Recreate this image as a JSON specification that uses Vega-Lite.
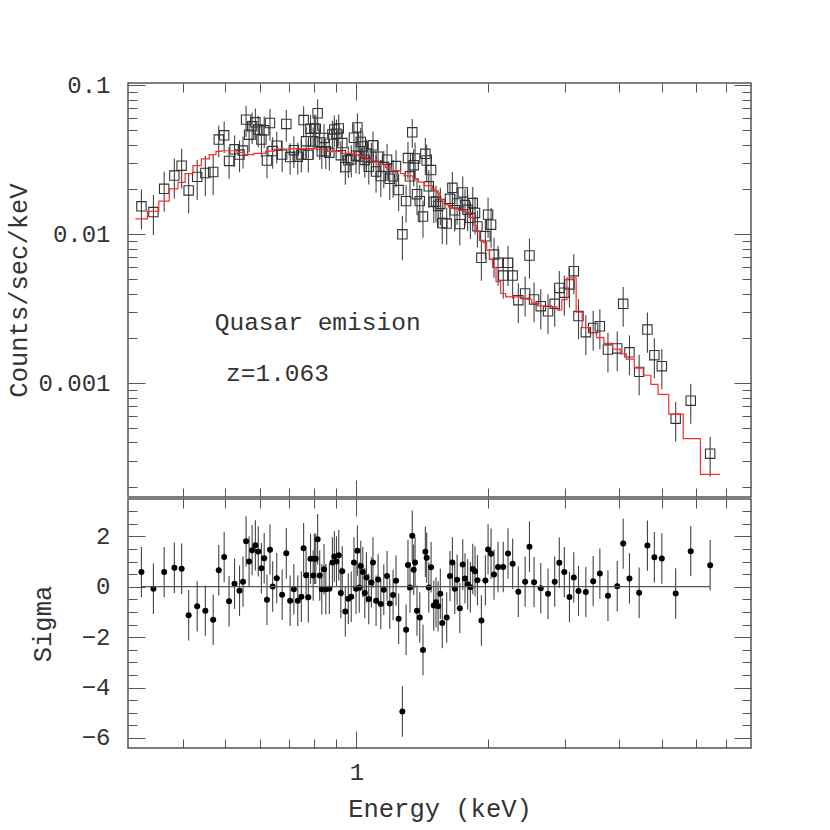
{
"$schema": "https://vega.github.io/schema/vega-lite/v6.json",
"background": "white",
"padding": {"left": 5, "top": 72, "right": 5, "bottom": 5},
"spacing": -9,
"datasets": {
"pts": [
{"E":0.322,"c":0.0154,"lo":0.01078,"hi":0.02002,"s":0.58,"sl":-0.42,"sh":1.58},
{"E":0.343,"c":0.0141,"lo":0.00987,"hi":0.01833,"s":-0.08,"sl":-1.08,"sh":0.92},
{"E":0.363,"c":0.0202,"lo":0.01414,"hi":0.02626,"s":0.58,"sl":-0.42,"sh":1.58},
{"E":0.383,"c":0.0248,"lo":0.01736,"hi":0.03224,"s":0.75,"sl":-0.25,"sh":1.75},
{"E":0.398,"c":0.0289,"lo":0.02023,"hi":0.03757,"s":0.71,"sl":-0.29,"sh":1.71},
{"E":0.413,"c":0.0197,"lo":0.01379,"hi":0.02561,"s":-1.13,"sl":-2.13,"sh":-0.13},
{"E":0.432,"c":0.0243,"lo":0.01701,"hi":0.03159,"s":-0.78,"sl":-1.78,"sh":0.22},
{"E":0.451,"c":0.0258,"lo":0.01806,"hi":0.03354,"s":-0.95,"sl":-1.95,"sh":0.05},
{"E":0.470,"c":0.0262,"lo":0.01834,"hi":0.03406,"s":-1.31,"sl":-2.31,"sh":-0.31},
{"E":0.484,"c":0.0433,"lo":0.0329,"hi":0.0537,"s":0.65,"sl":-0.35,"sh":1.65},
{"E":0.498,"c":0.0462,"lo":0.0351,"hi":0.0573,"s":1.18,"sl":0.18,"sh":2.18},
{"E":0.511,"c":0.0311,"lo":0.0236,"hi":0.0386,"s":-0.58,"sl":-1.58,"sh":0.42},
{"E":0.526,"c":0.0372,"lo":0.0283,"hi":0.0461,"s":0.12,"sl":-0.88,"sh":1.12},
{"E":0.540,"c":0.0343,"lo":0.0261,"hi":0.0425,"s":-0.16,"sl":-1.16,"sh":0.84},
{"E":0.550,"c":0.0365,"lo":0.0277,"hi":0.0453,"s":0.2,"sl":-0.8,"sh":1.2},
{"E":0.559,"c":0.0589,"lo":0.0448,"hi":0.0730,"s":1.8,"sl":0.8,"sh":2.8},
{"E":0.568,"c":0.0467,"lo":0.0355,"hi":0.0579,"s":1.0,"sl":0,"sh":2},
{"E":0.577,"c":0.0531,"lo":0.0404,"hi":0.0658,"s":1.45,"sl":0.45,"sh":2.45},
{"E":0.587,"c":0.0565,"lo":0.0429,"hi":0.0701,"s":1.64,"sl":0.64,"sh":2.64},
{"E":0.596,"c":0.0505,"lo":0.0384,"hi":0.0626,"s":1.4,"sl":0.4,"sh":2.4},
{"E":0.606,"c":0.0433,"lo":0.0329,"hi":0.0537,"s":0.73,"sl":-0.27,"sh":1.73},
{"E":0.615,"c":0.0499,"lo":0.0379,"hi":0.0619,"s":1.13,"sl":0.13,"sh":2.13},
{"E":0.624,"c":0.0313,"lo":0.0238,"hi":0.0388,"s":-0.52,"sl":-1.52,"sh":0.48},
{"E":0.634,"c":0.0559,"lo":0.0425,"hi":0.0693,"s":1.47,"sl":0.47,"sh":2.47},
{"E":0.643,"c":0.0362,"lo":0.0275,"hi":0.0449,"s":0.01,"sl":-0.99,"sh":1.01},
{"E":0.657,"c":0.0394,"lo":0.0299,"hi":0.0489,"s":0.34,"sl":-0.66,"sh":1.34},
{"E":0.676,"c":0.0343,"lo":0.0261,"hi":0.0425,"s":-0.32,"sl":-1.32,"sh":0.68},
{"E":0.691,"c":0.0551,"lo":0.0419,"hi":0.0683,"s":1.33,"sl":0.33,"sh":2.33},
{"E":0.705,"c":0.0330,"lo":0.0251,"hi":0.0409,"s":-0.56,"sl":-1.56,"sh":0.44},
{"E":0.719,"c":0.0367,"lo":0.0279,"hi":0.0455,"s":-0.1,"sl":-1.1,"sh":0.9},
{"E":0.734,"c":0.0332,"lo":0.0252,"hi":0.0412,"s":-0.56,"sl":-1.56,"sh":0.44},
{"E":0.748,"c":0.0343,"lo":0.0261,"hi":0.0425,"s":-0.4,"sl":-1.4,"sh":0.6},
{"E":0.757,"c":0.0585,"lo":0.0445,"hi":0.0725,"s":1.53,"sl":0.53,"sh":2.53},
{"E":0.767,"c":0.0422,"lo":0.0321,"hi":0.0523,"s":0.45,"sl":-0.55,"sh":1.45},
{"E":0.776,"c":0.0342,"lo":0.0260,"hi":0.0424,"s":-0.42,"sl":-1.42,"sh":0.58},
{"E":0.785,"c":0.0512,"lo":0.0389,"hi":0.0635,"s":1.11,"sl":0.11,"sh":2.11},
{"E":0.796,"c":0.0421,"lo":0.0320,"hi":0.0522,"s":0.44,"sl":-0.56,"sh":1.44},
{"E":0.801,"c":0.0512,"lo":0.0389,"hi":0.0635,"s":1.11,"sl":0.11,"sh":2.11},
{"E":0.807,"c":0.0512,"lo":0.0389,"hi":0.0635,"s":1.11,"sl":0.11,"sh":2.11},
{"E":0.815,"c":0.0650,"lo":0.0494,"hi":0.0806,"s":1.88,"sl":0.88,"sh":2.88},
{"E":0.824,"c":0.0414,"lo":0.0315,"hi":0.0513,"s":0.44,"sl":-0.56,"sh":1.44},
{"E":0.833,"c":0.0361,"lo":0.0274,"hi":0.0448,"s":-0.1,"sl":-1.1,"sh":0.9},
{"E":0.843,"c":0.0444,"lo":0.0337,"hi":0.0551,"s":0.69,"sl":-0.31,"sh":1.69},
{"E":0.851,"c":0.0361,"lo":0.0274,"hi":0.0448,"s":-0.1,"sl":-1.1,"sh":0.9},
{"E":0.867,"c":0.0353,"lo":0.0268,"hi":0.0438,"s":-0.08,"sl":-1.08,"sh":0.92},
{"E":0.881,"c":0.0468,"lo":0.0356,"hi":0.0580,"s":0.96,"sl":-0.04,"sh":1.96},
{"E":0.890,"c":0.0506,"lo":0.0385,"hi":0.0627,"s":1.2,"sl":0.2,"sh":2.2},
{"E":0.900,"c":0.0474,"lo":0.0360,"hi":0.0588,"s":1.0,"sl":0,"sh":2},
{"E":0.911,"c":0.0514,"lo":0.0391,"hi":0.0637,"s":1.25,"sl":0.25,"sh":2.25},
{"E":0.921,"c":0.0340,"lo":0.0258,"hi":0.0422,"s":-0.25,"sl":-1.25,"sh":0.75},
{"E":0.928,"c":0.0410,"lo":0.0312,"hi":0.0508,"s":0.61,"sl":-0.39,"sh":1.61},
{"E":0.943,"c":0.0283,"lo":0.0215,"hi":0.0351,"s":-0.98,"sl":-1.98,"sh":0.02},
{"E":0.958,"c":0.0314,"lo":0.0239,"hi":0.0389,"s":-0.48,"sl":-1.48,"sh":0.52},
{"E":0.973,"c":0.0319,"lo":0.0242,"hi":0.0396,"s":-0.4,"sl":-1.4,"sh":0.6},
{"E":0.987,"c":0.0445,"lo":0.0338,"hi":0.0552,"s":0.96,"sl":-0.04,"sh":1.96},
{"E":0.998,"c":0.0337,"lo":0.0256,"hi":0.0418,"s":-0.08,"sl":-1.08,"sh":0.92},
{"E":1.005,"c":0.0522,"lo":0.0397,"hi":0.0647,"s":1.43,"sl":0.43,"sh":2.43},
{"E":1.015,"c":0.0333,"lo":0.0253,"hi":0.0413,"s":-0.03,"sl":-1.03,"sh":0.97},
{"E":1.023,"c":0.0417,"lo":0.0317,"hi":0.0517,"s":0.82,"sl":-0.18,"sh":1.82},
{"E":1.034,"c":0.0389,"lo":0.0296,"hi":0.0482,"s":0.58,"sl":-0.42,"sh":1.58},
{"E":1.045,"c":0.0316,"lo":0.0240,"hi":0.0392,"s":-0.25,"sl":-1.25,"sh":0.75},
{"E":1.054,"c":0.0349,"lo":0.0265,"hi":0.0433,"s":0.37,"sl":-0.63,"sh":1.37},
{"E":1.067,"c":0.0284,"lo":0.0216,"hi":0.0352,"s":-0.49,"sl":-1.49,"sh":0.51},
{"E":1.082,"c":0.0332,"lo":0.0252,"hi":0.0412,"s":0.17,"sl":-0.83,"sh":1.17},
{"E":1.091,"c":0.0396,"lo":0.0301,"hi":0.0491,"s":0.96,"sl":-0.04,"sh":1.96},
{"E":1.109,"c":0.0264,"lo":0.0190,"hi":0.0338,"s":-0.56,"sl":-1.56,"sh":0.44},
{"E":1.121,"c":0.0332,"lo":0.0239,"hi":0.0425,"s":0.29,"sl":-0.71,"sh":1.29},
{"E":1.137,"c":0.0246,"lo":0.0177,"hi":0.0315,"s":-0.69,"sl":-1.69,"sh":0.31},
{"E":1.155,"c":0.0283,"lo":0.0204,"hi":0.0362,"s":-0.12,"sl":-1.12,"sh":0.88},
{"E":1.175,"c":0.0317,"lo":0.0228,"hi":0.0406,"s":0.42,"sl":-0.58,"sh":1.42},
{"E":1.192,"c":0.0236,"lo":0.0170,"hi":0.0302,"s":-0.67,"sl":-1.67,"sh":0.33},
{"E":1.213,"c":0.0245,"lo":0.0176,"hi":0.0314,"s":-0.33,"sl":-1.33,"sh":0.67},
{"E":1.232,"c":0.0287,"lo":0.0207,"hi":0.0367,"s":0.24,"sl":-0.76,"sh":1.24},
{"E":1.249,"c":0.0198,"lo":0.0143,"hi":0.0253,"s":-1.27,"sl":-2.27,"sh":-0.27},
{"E":1.274,"c":0.0100,"lo":0.0067,"hi":0.0133,"s":-4.95,"sl":-5.95,"sh":-3.95},
{"E":1.299,"c":0.0167,"lo":0.0120,"hi":0.0214,"s":-1.71,"sl":-2.71,"sh":-0.71},
{"E":1.312,"c":0.0325,"lo":0.0234,"hi":0.0416,"s":0.86,"sl":-0.14,"sh":1.86},
{"E":1.326,"c":0.0245,"lo":0.0176,"hi":0.0314,"s":-0.03,"sl":-1.03,"sh":0.97},
{"E":1.342,"c":0.0484,"lo":0.0380,"hi":0.0595,"s":2.02,"sl":1.02,"sh":3.02},
{"E":1.352,"c":0.0291,"lo":0.0210,"hi":0.0372,"s":0.67,"sl":-0.33,"sh":1.67},
{"E":1.362,"c":0.0323,"lo":0.0233,"hi":0.0413,"s":0.96,"sl":-0.04,"sh":1.96},
{"E":1.376,"c":0.0186,"lo":0.0134,"hi":0.0238,"s":-0.95,"sl":-1.95,"sh":0.05},
{"E":1.396,"c":0.0167,"lo":0.0120,"hi":0.0214,"s":-1.22,"sl":-2.22,"sh":-0.22},
{"E":1.420,"c":0.01315,"lo":0.00947,"hi":0.01683,"s":-2.51,"sl":-3.51,"sh":-1.51},
{"E":1.438,"c":0.0347,"lo":0.0250,"hi":0.0444,"s":1.39,"sl":0.39,"sh":2.39},
{"E":1.448,"c":0.0313,"lo":0.0225,"hi":0.0401,"s":1.15,"sl":0.15,"sh":2.15},
{"E":1.464,"c":0.0210,"lo":0.0151,"hi":0.0269,"s":-0.03,"sl":-1.03,"sh":0.97},
{"E":1.482,"c":0.0270,"lo":0.0194,"hi":0.0346,"s":0.77,"sl":-0.23,"sh":1.77},
{"E":1.503,"c":0.0165,"lo":0.0119,"hi":0.0211,"s":-0.75,"sl":-1.75,"sh":0.25},
{"E":1.521,"c":0.0166,"lo":0.0120,"hi":0.0212,"s":-0.62,"sl":-1.62,"sh":0.38},
{"E":1.538,"c":0.0155,"lo":0.0112,"hi":0.0198,"s":-0.78,"sl":-1.78,"sh":0.22},
{"E":1.556,"c":0.0160,"lo":0.0115,"hi":0.0205,"s":-0.28,"sl":-1.28,"sh":0.72},
{"E":1.572,"c":0.0119,"lo":0.00857,"hi":0.01523,"s":-1.44,"sl":-2.44,"sh":-0.44},
{"E":1.609,"c":0.0118,"lo":0.0085,"hi":0.0151,"s":-1.22,"sl":-2.22,"sh":-0.22},
{"E":1.637,"c":0.0173,"lo":0.01246,"hi":0.02214,"s":0.42,"sl":-0.58,"sh":1.42},
{"E":1.658,"c":0.0205,"lo":0.01476,"hi":0.02624,"s":0.96,"sl":-0.04,"sh":1.96},
{"E":1.679,"c":0.0145,"lo":0.01044,"hi":0.01856,"s":-0.08,"sl":-1.08,"sh":0.92},
{"E":1.700,"c":0.0161,"lo":0.01159,"hi":0.02061,"s":0.28,"sl":-0.72,"sh":1.28},
{"E":1.724,"c":0.0117,"lo":0.00842,"hi":0.01498,"s":-0.85,"sl":-1.85,"sh":0.15},
{"E":1.751,"c":0.0191,"lo":0.01375,"hi":0.02445,"s":0.88,"sl":-0.12,"sh":1.88},
{"E":1.772,"c":0.0157,"lo":0.0113,"hi":0.0201,"s":0.33,"sl":-0.67,"sh":1.33},
{"E":1.797,"c":0.0146,"lo":0.01051,"hi":0.01869,"s":0.1,"sl":-0.9,"sh":1.1},
{"E":1.823,"c":0.0129,"lo":0.00929,"hi":0.01651,"s":-0.02,"sl":-1.02,"sh":0.98},
{"E":1.846,"c":0.0162,"lo":0.01166,"hi":0.02074,"s":0.7,"sl":-0.3,"sh":1.7},
{"E":1.868,"c":0.0139,"lo":0.01001,"hi":0.01779,"s":0.61,"sl":-0.39,"sh":1.61},
{"E":1.892,"c":0.0113,"lo":0.00814,"hi":0.01446,"s":0.26,"sl":-0.74,"sh":1.26},
{"E":1.932,"c":0.00695,"lo":0.00487,"hi":0.00904,"s":-1.34,"sl":-2.34,"sh":-0.34},
{"E":1.973,"c":0.0097,"lo":0.00679,"hi":0.01261,"s":0.25,"sl":-0.75,"sh":1.25},
{"E":2.001,"c":0.01355,"lo":0.00949,"hi":0.01762,"s":1.48,"sl":0.48,"sh":2.48},
{"E":2.033,"c":0.0116,"lo":0.00812,"hi":0.01508,"s":1.31,"sl":0.31,"sh":2.31},
{"E":2.065,"c":0.0073,"lo":0.00511,"hi":0.00949,"s":0.48,"sl":-0.52,"sh":1.48},
{"E":2.109,"c":0.00643,"lo":0.0045,"hi":0.00836,"s":0.78,"sl":-0.22,"sh":1.78},
{"E":2.168,"c":0.00528,"lo":0.0037,"hi":0.00686,"s":0.78,"sl":-0.22,"sh":1.78},
{"E":2.223,"c":0.00643,"lo":0.0045,"hi":0.00836,"s":1.32,"sl":0.32,"sh":2.32},
{"E":2.278,"c":0.00528,"lo":0.0037,"hi":0.00686,"s":0.91,"sl":-0.09,"sh":1.91},
{"E":2.347,"c":0.00361,"lo":0.00253,"hi":0.00469,"s":-0.2,"sl":-1.2,"sh":0.8},
{"E":2.433,"c":0.0040,"lo":0.0028,"hi":0.0052,"s":0.2,"sl":-0.8,"sh":1.2},
{"E":2.489,"c":0.0072,"lo":0.00504,"hi":0.00936,"s":1.59,"sl":0.59,"sh":2.59},
{"E":2.550,"c":0.00365,"lo":0.00256,"hi":0.00475,"s":0.18,"sl":-0.82,"sh":1.18},
{"E":2.642,"c":0.00329,"lo":0.0023,"hi":0.00428,"s":-0.06,"sl":-1.06,"sh":0.94},
{"E":2.745,"c":0.00304,"lo":0.00213,"hi":0.00395,"s":-0.28,"sl":-1.28,"sh":0.72},
{"E":2.843,"c":0.00341,"lo":0.00239,"hi":0.00443,"s":0.2,"sl":-0.8,"sh":1.2},
{"E":2.913,"c":0.00436,"lo":0.00305,"hi":0.00567,"s":0.95,"sl":-0.05,"sh":1.95},
{"E":2.991,"c":0.00405,"lo":0.00284,"hi":0.00527,"s":0.58,"sl":-0.42,"sh":1.58},
{"E":3.073,"c":0.0046,"lo":0.00322,"hi":0.00598,"s":-0.41,"sl":-1.41,"sh":0.59},
{"E":3.144,"c":0.00565,"lo":0.00396,"hi":0.00735,"s":0.37,"sl":-0.63,"sh":1.37},
{"E":3.223,"c":0.00282,"lo":0.00197,"hi":0.00367,"s":-0.17,"sl":-1.17,"sh":0.83},
{"E":3.350,"c":0.0022,"lo":0.00154,"hi":0.00286,"s":-0.21,"sl":-1.21,"sh":0.79},
{"E":3.482,"c":0.00235,"lo":0.00165,"hi":0.00306,"s":0.22,"sl":-0.78,"sh":1.22},
{"E":3.607,"c":0.00241,"lo":0.00169,"hi":0.00313,"s":0.52,"sl":-0.48,"sh":1.52},
{"E":3.764,"c":0.00168,"lo":0.00118,"hi":0.00218,"s":-0.36,"sl":-1.36,"sh":0.64},
{"E":3.953,"c":0.00171,"lo":0.0012,"hi":0.00222,"s":0.02,"sl":-0.98,"sh":1.02},
{"E":4.079,"c":0.00341,"lo":0.00239,"hi":0.00443,"s":1.71,"sl":0.71,"sh":2.71},
{"E":4.216,"c":0.00161,"lo":0.00113,"hi":0.00209,"s":0.33,"sl":-0.67,"sh":1.33},
{"E":4.437,"c":0.00119,"lo":0.00083,"hi":0.00155,"s":-0.24,"sl":-1.24,"sh":0.76},
{"E":4.635,"c":0.00229,"lo":0.0016,"hi":0.00298,"s":1.63,"sl":0.63,"sh":2.63},
{"E":4.807,"c":0.00154,"lo":0.00108,"hi":0.002,"s":1.17,"sl":0.17,"sh":2.17},
{"E":5.000,"c":0.0013,"lo":0.00091,"hi":0.00169,"s":1.12,"sl":0.12,"sh":2.12},
{"E":5.379,"c":0.000577,"lo":0.000404,"hi":0.00075,"s":-0.27,"sl":-1.27,"sh":0.73},
{"E":5.823,"c":0.000762,"lo":0.000533,"hi":0.000991,"s":1.41,"sl":0.41,"sh":2.41},
{"E":6.451,"c":0.000336,"lo":0.000235,"hi":0.000437,"s":0.85,"sl":-0.15,"sh":1.85}
],
"model": [
{"E":0.312,"m":0.01268},{"E":0.322,"m":0.01268},{"E":0.343,"m":0.01426},{"E":0.363,"m":0.01668},{"E":0.383,"m":0.0202},{"E":0.398,"m":0.02234},{"E":0.413,"m":0.02553},{"E":0.432,"m":0.0289},{"E":0.451,"m":0.0321},{"E":0.470,"m":0.0343},{"E":0.484,"m":0.0361},{"E":0.498,"m":0.0364},{"E":0.511,"m":0.0364},{"E":0.526,"m":0.0364},{"E":0.540,"m":0.0355},{"E":0.550,"m":0.0355},{"E":0.559,"m":0.0343},{"E":0.568,"m":0.0343},{"E":0.577,"m":0.0343},{"E":0.587,"m":0.035},{"E":0.596,"m":0.035},{"E":0.606,"m":0.035},{"E":0.615,"m":0.035},{"E":0.624,"m":0.0362},{"E":0.634,"m":0.0362},{"E":0.643,"m":0.0362},{"E":0.657,"m":0.0374},{"E":0.676,"m":0.0374},{"E":0.691,"m":0.0374},{"E":0.705,"m":0.0374},{"E":0.719,"m":0.0376},{"E":0.734,"m":0.0376},{"E":0.748,"m":0.0376},{"E":0.757,"m":0.0376},{"E":0.767,"m":0.0376},{"E":0.776,"m":0.0376},{"E":0.785,"m":0.0376},{"E":0.796,"m":0.0376},{"E":0.801,"m":0.0376},{"E":0.807,"m":0.0376},{"E":0.815,"m":0.037},{"E":0.824,"m":0.037},{"E":0.833,"m":0.037},{"E":0.843,"m":0.037},{"E":0.851,"m":0.037},{"E":0.867,"m":0.036},{"E":0.881,"m":0.036},{"E":0.890,"m":0.036},{"E":0.900,"m":0.036},{"E":0.911,"m":0.036},{"E":0.921,"m":0.036},{"E":0.928,"m":0.035},{"E":0.943,"m":0.035},{"E":0.958,"m":0.035},{"E":0.973,"m":0.035},{"E":0.987,"m":0.0343},{"E":0.998,"m":0.0343},{"E":1.005,"m":0.0343},{"E":1.015,"m":0.0335},{"E":1.023,"m":0.0335},{"E":1.034,"m":0.0335},{"E":1.045,"m":0.0335},{"E":1.054,"m":0.0318},{"E":1.067,"m":0.0318},{"E":1.082,"m":0.0318},{"E":1.091,"m":0.0305},{"E":1.109,"m":0.0305},{"E":1.121,"m":0.0305},{"E":1.137,"m":0.0293},{"E":1.155,"m":0.0293},{"E":1.175,"m":0.028},{"E":1.192,"m":0.028},{"E":1.213,"m":0.0268},{"E":1.232,"m":0.0268},{"E":1.249,"m":0.0268},{"E":1.274,"m":0.0256},{"E":1.299,"m":0.0247},{"E":1.312,"m":0.0247},{"E":1.326,"m":0.0247},{"E":1.342,"m":0.0247},{"E":1.352,"m":0.0236},{"E":1.362,"m":0.0236},{"E":1.376,"m":0.0236},{"E":1.396,"m":0.0224},{"E":1.420,"m":0.0224},{"E":1.438,"m":0.0212},{"E":1.448,"m":0.0212},{"E":1.464,"m":0.0212},{"E":1.482,"m":0.0212},{"E":1.503,"m":0.02},{"E":1.521,"m":0.0195},{"E":1.538,"m":0.0189},{"E":1.556,"m":0.0173},{"E":1.572,"m":0.0167},{"E":1.609,"m":0.0158},{"E":1.637,"m":0.0153},{"E":1.658,"m":0.015},{"E":1.679,"m":0.0148},{"E":1.700,"m":0.0148},{"E":1.724,"m":0.0145},{"E":1.751,"m":0.0144},{"E":1.772,"m":0.0143},{"E":1.797,"m":0.0142},{"E":1.823,"m":0.013},{"E":1.846,"m":0.013},{"E":1.868,"m":0.0115},{"E":1.892,"m":0.0105},{"E":1.932,"m":0.0091},{"E":1.973,"m":0.0088},{"E":2.001,"m":0.0078},{"E":2.033,"m":0.0068},{"E":2.065,"m":0.006},{"E":2.109,"m":0.0048},{"E":2.168,"m":0.004},{"E":2.223,"m":0.0038},{"E":2.278,"m":0.0038},{"E":2.347,"m":0.0038},{"E":2.433,"m":0.00368},{"E":2.489,"m":0.00365},{"E":2.550,"m":0.00345},{"E":2.642,"m":0.0033},{"E":2.745,"m":0.0033},{"E":2.843,"m":0.00325},{"E":2.913,"m":0.0031},{"E":2.991,"m":0.00364},{"E":3.073,"m":0.0051},{"E":3.144,"m":0.0051},{"E":3.223,"m":0.003},{"E":3.350,"m":0.00236},{"E":3.482,"m":0.00218},{"E":3.607,"m":0.00202},{"E":3.764,"m":0.00185},{"E":3.953,"m":0.00169},{"E":4.079,"m":0.00157},{"E":4.216,"m":0.00145},{"E":4.437,"m":0.00126},{"E":4.635,"m":0.00113},{"E":4.807,"m":0.00098},{"E":5.000,"m":0.00084},{"E":5.379,"m":0.00062},{"E":5.823,"m":0.000424},{"E":6.451,"m":0.000244},{"E":6.79,"m":0.000244}
],
"zero": [{"E":0.322,"E2":6.451,"z":0}],
"txt": [{"E":0.4739,"c":0.002268,"t":"Quasar emision"},{"E":0.5029,"c":0.001031,"t":"z=1.063"}]
},
"config": {
"view": {"stroke": "#555", "strokeWidth": 1.5},
"axis": {"domain": false, "grid": false, "tickColor": "#555", "tickWidth": 1, "labelFont": "Liberation Mono", "labelFontSize": 24, "labelColor": "#333", "labelOverlap": false, "labelFlush": false, "labelBound": false, "titleFont": "Liberation Mono", "titleFontSize": 25.5, "titleFontWeight": "normal", "titleColor": "#333"},
"font": "Liberation Mono"
},
"vconcat": [
{
"width": 623, "height": 414,
"layer": [
{"data": {"name": "pts"}, "mark": {"type": "rule", "color": "#444", "strokeWidth": 1.1},
"encoding": {
"x": {"field": "E", "type": "quantitative", "scale": {"type": "log", "domain": [0.3, 8], "nice": false},
"axis": {"orient": "bottom", "values": [0.4,0.5,0.6,0.7,0.8,0.9,1,2,3,4,5,6,7], "tickSize": {"condition": {"test": "datum.value == 1", "value": -17}, "value": -9}, "labels": false, "title": null}},
"y": {"field": "lo", "type": "quantitative", "scale": {"type": "log", "domain": [0.0001718, 0.1038], "nice": false},
"axis": {"orient": "left", "values": [0.0002,0.0003,0.0004,0.0005,0.0006,0.0007,0.0008,0.0009,0.001,0.002,0.003,0.004,0.005,0.006,0.007,0.008,0.009,0.01,0.02,0.03,0.04,0.05,0.06,0.07,0.08,0.09,0.1],
"tickSize": {"condition": {"test": "datum.value == 0.1 || datum.value == 0.01 || datum.value == 0.001", "value": -17}, "value": -9},
"labelFontSize": {"condition": {"test": "datum.value == 0.1 || datum.value == 0.01 || datum.value == 0.001", "value": 24}, "value": 0},
"labelExpr": "datum.value == 0.1 ? '0.1' : datum.value == 0.01 ? '0.01' : datum.value == 0.001 ? '0.001' : ''",
"labelPadding": 35, "labelBaseline": "middle", "labelAlign": "right",
"title": "Counts/sec/keV", "titleX": -102, "titleY": 207, "titleAngle": -90, "titleBaseline": "alphabetic", "titleAlign": "center"}},
"y2": {"field": "hi"}
}},
{"data": {"name": "pts"}, "mark": {"type": "point", "shape": "square", "filled": false, "size": 88, "stroke": "#333", "strokeWidth": 1.1, "opacity": 1},
"encoding": {
"x": {"field": "E", "type": "quantitative", "scale": {"type": "log", "domain": [0.3, 8], "nice": false},
"axis": {"orient": "top", "values": [0.4,0.5,0.6,0.7,0.8,0.9,1,2,3,4,5,6,7], "tickSize": {"condition": {"test": "datum.value == 1", "value": -17}, "value": -9}, "labels": false, "title": null}},
"y": {"field": "c", "type": "quantitative", "scale": {"type": "log", "domain": [0.0001718, 0.1038], "nice": false},
"axis": {"orient": "right", "values": [0.0002,0.0003,0.0004,0.0005,0.0006,0.0007,0.0008,0.0009,0.001,0.002,0.003,0.004,0.005,0.006,0.007,0.008,0.009,0.01,0.02,0.03,0.04,0.05,0.06,0.07,0.08,0.09,0.1],
"tickSize": {"condition": {"test": "datum.value == 0.1 || datum.value == 0.01 || datum.value == 0.001", "value": -17}, "value": -9}, "labels": false, "title": null}}
}},
{"data": {"name": "model"}, "mark": {"type": "line", "interpolate": "step", "color": "#ff2a2a", "strokeWidth": 1.2},
"encoding": {
"x": {"field": "E", "type": "quantitative", "axis": null},
"y": {"field": "m", "type": "quantitative", "axis": null}
}},
{"data": {"name": "txt"}, "mark": {"type": "text", "align": "left", "baseline": "alphabetic", "font": "Liberation Mono", "fontSize": 24.5, "color": "#333"},
"encoding": {
"x": {"field": "E", "type": "quantitative", "axis": null},
"y": {"field": "c", "type": "quantitative", "axis": null},
"text": {"field": "t"}
}}
],
"resolve": {"axis": {"x": "independent", "y": "independent"}}
},
{
"width": 623, "height": 249,
"layer": [
{"data": {"name": "pts"}, "mark": {"type": "rule", "color": "#444", "strokeWidth": 1.1},
"encoding": {
"x": {"field": "E", "type": "quantitative", "scale": {"type": "log", "domain": [0.3, 8], "nice": false},
"axis": {"orient": "bottom", "values": [0.4,0.5,0.6,0.7,0.8,0.9,1,2,3,4,5,6,7], "tickSize": {"condition": {"test": "datum.value == 1", "value": -17}, "value": -9},
"labelFontSize": {"condition": {"test": "datum.value == 1", "value": 24}, "value": 0},
"labelExpr": "datum.value == 1 ? '1' : ''", "labelPadding": 48, "labelBaseline": "alphabetic", "labelAlign": "center",
"title": "Energy (keV)", "titleX": 311.5, "titleY": 68, "titleBaseline": "alphabetic", "titleAlign": "center"}},
"y": {"field": "sl", "type": "quantitative", "scale": {"domain": [-6.4, 3.48], "nice": false, "zero": false},
"axis": {"orient": "left", "values": [-6,-5.5,-5,-4.5,-4,-3.5,-3,-2.5,-2,-1.5,-1,-0.5,0,0.5,1,1.5,2,2.5,3],
"tickSize": {"condition": {"test": "datum.value % 2 == 0", "value": -17}, "value": -9},
"labelFontSize": {"condition": {"test": "datum.value % 2 == 0", "value": 24}, "value": 0},
"labelExpr": "datum.value % 2 == 0 ? (datum.value < 0 ? '−' + abs(datum.value) : '' + abs(datum.value)) : ''",
"labelPadding": 35, "labelBaseline": "middle", "labelAlign": "right",
"title": "Sigma", "titleX": -78, "titleY": 124.5, "titleAngle": -90, "titleBaseline": "alphabetic", "titleAlign": "center"}},
"y2": {"field": "sh"}
}},
{"data": {"name": "pts"}, "mark": {"type": "point", "shape": "circle", "filled": true, "size": 36, "color": "#000", "opacity": 1},
"encoding": {
"x": {"field": "E", "type": "quantitative", "scale": {"type": "log", "domain": [0.3, 8], "nice": false},
"axis": {"orient": "top", "values": [0.4,0.5,0.6,0.7,0.8,0.9,1,2,3,4,5,6,7], "tickSize": {"condition": {"test": "datum.value == 1", "value": -17}, "value": -9}, "labels": false, "title": null}},
"y": {"field": "s", "type": "quantitative", "scale": {"domain": [-6.4, 3.48], "nice": false, "zero": false},
"axis": {"orient": "right", "values": [-6,-5.5,-5,-4.5,-4,-3.5,-3,-2.5,-2,-1.5,-1,-0.5,0,0.5,1,1.5,2,2.5,3],
"tickSize": {"condition": {"test": "datum.value % 2 == 0", "value": -17}, "value": -9}, "labels": false, "title": null}}
}},
{"data": {"name": "zero"}, "mark": {"type": "rule", "color": "#555", "strokeWidth": 1.2},
"encoding": {
"x": {"field": "E", "type": "quantitative", "axis": null},
"x2": {"field": "E2"},
"y": {"field": "z", "type": "quantitative", "axis": null}
}}
],
"resolve": {"axis": {"x": "independent", "y": "independent"}}
}
]
}
